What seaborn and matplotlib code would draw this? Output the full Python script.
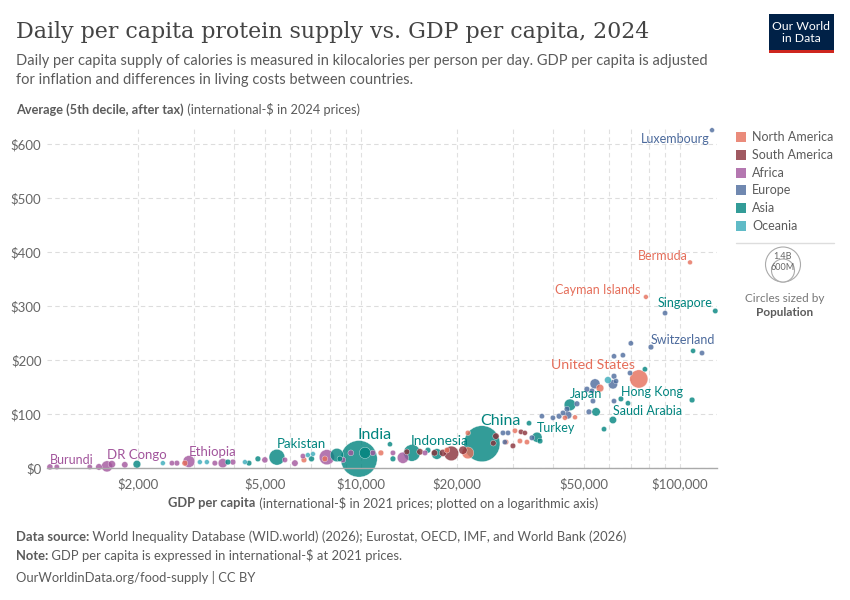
import pandas as pd
import seaborn as sns
import matplotlib.pyplot as plt
from matplotlib.patches import Rectangle, Circle
from matplotlib.lines import Line2D
from matplotlib.ticker import FixedLocator, FixedFormatter, NullFormatter

# Datos: PIB per cápita, valor, continente, población (millones)
countries = [
    "Burundi", "", "", "", "DR Congo", "", "", "", "", "Ethiopia", "", "", "", "", "", "", "",
    "Nigeria", "", "", "", "", "Egypt", "",
    "", "", "", "", "Pakistan", "", "Bangladesh", "", "India", "Philippines", "", "", "Indonesia", "",
    "Vietnam", "China", "", "Turkey", "", "Japan", "South Korea", "", "Saudi Arabia", "Hong Kong", "",
    "", "", "", "Singapore",
    "", "", "", "", "", "", "", "", "", "", "", "", "", "", "", "Germany", "United Kingdom", "", "",
    "", "", "", "", "", "Switzerland", "", "", "Luxembourg",
    "Haiti", "", "", "", "", "Mexico", "", "", "", "", "", "", "", "Canada", "United States",
    "Cayman Islands", "Bermuda",
    "", "", "", "", "Brazil", "Colombia", "Chile", "", "", "", "",
    "", "", "", "", "", "", "Australia",
]
gdp = [
    1060, 1114, 1413, 1510, 1600, 1657, 1820, 2557, 2650, 2890, 3485, 3690, 3970, 5000, 5780, 6210, 6580,
    7820, 8780, 9300, 10900, 12600, 13540, 15880,
    1986, 3830, 4460, 4755, 5455, 7000, 8410, 8590, 9860, 10300, 12330, 12600, 14450, 16220,
    17300, 23950, 33640, 35640, 36410, 45200, 54570, 57790, 61630, 65290, 68710,
    77640, 109100, 109900, 129000,
    27870, 28910, 28250, 34360, 36920, 39970, 41780, 42990, 44560, 44240, 47540, 51090, 51840, 52980,
    53360, 54160, 61630, 62110, 63000, 62110, 69710, 62110, 66230, 70130, 81090, 89770, 117200, 126000,
    2807, 6630, 7710, 11550, 18610, 21640, 21640, 28510, 30390, 31500, 33140, 43590, 46880, 56140, 74300,
    78190, 107500,
    13930, 15310, 17000, 18070, 19200, 20890, 26490, 26000, 29950, 31740, 32660,
    2395, 3128, 3290, 4330, 6820, 7075, 59460,
]
protein = [
    2, 2, 2, 2, 3, 7, 6, 9, 9, 12, 9, 9, 11, 15, 15, 9, 22,
    20, 15, 28, 28, 28, 19, 28,
    7, 11, 9, 17, 20, 17, 24, 17, 17, 28, 44, 17, 28, 33,
    26, 45, 83, 57, 50, 117, 104, 72, 89, 128, 120,
    183, 126, 217, 291,
    65, 65, 48, 56, 96, 93, 96, 102, 98, 109, 119, 146, 104, 143,
    124, 156, 155, 170, 161, 124, 176, 207, 209, 231, 224, 287, 213, 626,
    9, 15, 17, 28, 33, 28, 65, 48, 69, 50, 48, 93, 94, 148, 165,
    317, 381,
    30, 30, 28, 28, 27, 33, 59, 46, 41, 67, 65,
    9, 11, 11, 11, 24, 26, 163,
]
continent = (
    ["Africa"] * 24
    + ["Asia"] * 29
    + ["Europe"] * 28
    + ["North America"] * 17
    + ["South America"] * 11
    + ["Oceania"] * 7
)
population = [
    14, 6, 5, 21, 110, 34, 18, 6, 9, 130, 8, 68, 12, 15, 6, 20, 6,
    230, 10, 12, 8, 6, 115, 8,
    40, 10, 8, 10, 250, 12, 172, 8, 1450, 115, 3, 10, 282, 10,
    100, 1410, 5, 86, 10, 124, 52, 5, 33, 7.5, 5,
    5, 10, 3, 6,
    6, 5, 5, 8, 5, 5, 10, 6, 40, 10, 10, 10, 10, 5,
    6, 84, 68, 10, 5, 5, 5, 5, 5, 5, 9, 5, 5, 0.7,
    12, 10, 10, 10, 10, 130, 5, 5, 5, 5, 5, 3, 1, 40, 340,
    0.07, 0.06,
    10, 20, 18, 30, 212, 50, 20, 10, 8, 5, 3,
    1, 1, 1, 1, 1, 1, 27,
]

continent_order = ["North America", "South America", "Africa", "Europe", "Asia", "Oceania"]
colors = {
    "North America": "#E56E5A",
    "South America": "#883039",
    "Africa": "#A2559C",
    "Europe": "#4C6A9C",
    "Asia": "#00847E",
    "Oceania": "#38AABA",
}

df = pd.DataFrame({"country": countries, "gdp": gdp, "protein": protein,
                   "continent": continent, "pop": population})
df = df.sort_values("pop", ascending=False)

sns.set_theme(style="white")
plt.rcParams["font.family"] = ["Lato", "DejaVu Sans"]

W, H = 850, 600
fig = plt.figure(figsize=(8.5, 6), dpi=100)
ax = fig.add_axes([47 / W, 132 / H, 670 / W, 340 / H])

sns.scatterplot(data=df, x="gdp", y="protein", hue="continent", hue_order=continent_order,
                palette=colors, size="pop", sizes=(12, 690), size_norm=(0, 1450),
                alpha=0.8, edgecolor="white", linewidth=0.3, legend=False, ax=ax, clip_on=False)

ax.set_xscale("log")
ax.set_xlim(1038, 130600)
ax.set_ylim(0, 630)

xt = [2000, 5000, 10000, 20000, 50000, 100000]
ax.xaxis.set_major_locator(FixedLocator(xt))
ax.xaxis.set_major_formatter(FixedFormatter(["$2,000", "$5,000", "$10,000", "$20,000", "$50,000", "$100,000"]))
minor = [m * 10 ** e for e in range(3, 6) for m in range(1, 10)]
ax.xaxis.set_minor_locator(FixedLocator(minor))
ax.xaxis.set_minor_formatter(NullFormatter())
ax.set_yticks(range(0, 601, 100))
ax.set_yticklabels(["$0"] + [f"${v}" for v in range(100, 601, 100)])

ax.grid(which="both", axis="x", linestyle=(0, (4, 3)), color="#e0e0e0", linewidth=0.8)
ax.grid(which="major", axis="y", linestyle=(0, (4, 3)), color="#dddddd", linewidth=0.8)
ax.set_axisbelow(True)
for s in ["top", "right", "left"]:
    ax.spines[s].set_visible(False)
ax.spines["bottom"].set_color("#aaaaaa")
ax.spines["bottom"].set_linewidth(1)
ax.tick_params(axis="both", which="both", length=0, labelsize=9.5, colors="#666666")
ax.tick_params(axis="x", pad=7)
ax.tick_params(axis="y", pad=4)
ax.set_xlabel("")
ax.set_ylabel("")

# etiquetas de países
label_style = {
    "Burundi": (0, 5, "left", 9),
    "DR Congo": (0, 8, "left", 9.5),
    "Ethiopia": (0, 6.5, "left", 9.5),
    "Pakistan": (0, 9.5, "left", 9.5),
    "India": (-1, 17, "left", 11.5),
    "Indonesia": (-1, 8.5, "left", 9.8),
    "China": (-1, 16, "left", 11.5),
    "Turkey": (0, 6.5, "left", 9),
    "Japan": (0, 7.5, "left", 9.3),
    "Saudi Arabia": (0, 6.5, "left", 9),
    "Hong Kong": (0, 5, "left", 9),
    "United States": (-2.5, 10, "right", 10.2),
    "Switzerland": (0, 5, "left", 9),
    "Singapore": (-2, 6, "right", 9),
    "Cayman Islands": (-4, 5, "right", 9),
    "Bermuda": (-1.5, 4.5, "right", 9),
    "Luxembourg": (-2, -6.5, "right", 9),
}
for _, r in df.iterrows():
    if r["country"] in label_style:
        dx, dy, ha, fs = label_style[r["country"]]
        ax.annotate(r["country"], (r["gdp"], r["protein"]), xytext=(dx, dy), textcoords="offset points",
                    ha=ha, va="center", fontsize=fs, color=colors[r["continent"]], annotation_clip=False)

renderer = fig.canvas.get_renderer()


def rich(x, y, parts, size, color="#5b5b5b", ha="left"):
    texts = []
    cx = x
    for s, w in parts:
        t = fig.text(cx / W, 1 - y / H, s, fontsize=size, fontweight=w, color=color, va="center")
        cx += t.get_window_extent(renderer).width
        texts.append(t)
    if ha == "center":
        shift = (cx - x) / 2
        for t in texts:
            px, py = t.get_position()
            t.set_position((px - shift / W, py))


# títulos
fig.text(16 / W, 1 - 32 / H, "Daily per capita protein supply vs. GDP per capita, 2024",
         fontsize=15.9, family="DejaVu Serif", color="#444444", va="center")
fig.text(16 / W, 1 - 61 / H, "Daily per capita supply of calories is measured in kilocalories per person per day. GDP per capita is adjusted",
         fontsize=10.5, color="#5b5b5b", va="center")
fig.text(16 / W, 1 - 80 / H, "for inflation and differences in living costs between countries.",
         fontsize=10.5, color="#5b5b5b", va="center")
rich(16, 110, [("Average (5th decile, after tax)", "bold"), (" (international-$ in 2024 prices)", "normal")], 9.2)
rich(383, 503, [("GDP per capita", "bold"), (" (international-$ in 2021 prices; plotted on a logarithmic axis)", "normal")],
     9.3, ha="center")

# pie de página
rich(16, 537, [("Data source:", "bold"), (" World Inequality Database (WID.world) (2026); Eurostat, OECD, IMF, and World Bank (2026)", "normal")], 9.4)
rich(16, 556, [("Note:", "bold"), (" GDP per capita is expressed in international-$ at 2021 prices.", "normal")], 9.4)
fig.text(16 / W, 1 - 577 / H, "OurWorldinData.org/food-supply | CC BY", fontsize=9.4, color="#5b5b5b", va="center")

# logo
fig.add_artist(Rectangle((769 / W, 1 - 50 / H), 65 / W, 36 / H, transform=fig.transFigure, color="#002147", lw=0))
fig.add_artist(Rectangle((769 / W, 1 - 53 / H), 65 / W, 3 / H, transform=fig.transFigure, color="#CE261E", lw=0))
fig.text(801 / W, 1 - 26 / H, "Our World", fontsize=8.8, color="white", ha="center", va="center")
fig.text(801 / W, 1 - 39 / H, "in Data", fontsize=8.8, color="white", ha="center", va="center")

# leyenda de continentes
for i, c in enumerate(continent_order):
    yc = 137 + i * 17.8
    fig.add_artist(Rectangle((736 / W, 1 - (yc + 5) / H), 10 / W, 10 / H, transform=fig.transFigure,
                             color=colors[c], alpha=0.8, lw=0))
    fig.text(752 / W, 1 - yc / H, c, fontsize=9, color="#5b5b5b", va="center")
fig.add_artist(Line2D([736 / W, 834 / W], [1 - 243 / H, 1 - 243 / H], transform=fig.transFigure,
                      color="#dddddd", lw=1))

# leyenda de tamaños
fig.add_artist(Circle((783 / 100, (600 - 264.5) / 100), 0.175, transform=fig.dpi_scale_trans,
                      facecolor="white", edgecolor="#aaaaaa", lw=0.8))
fig.add_artist(Circle((783 / 100, (600 - 270.5) / 100), 0.115, transform=fig.dpi_scale_trans,
                      facecolor="white", edgecolor="#aaaaaa", lw=0.8))
fig.text(783 / W, 1 - 256 / H, "1.4B", fontsize=6.5, color="#666666", ha="center", va="center")
fig.text(783 / W, 1 - 268 / H, "600M", fontsize=6.5, color="#666666", ha="center", va="center")
fig.text(785 / W, 1 - 299 / H, "Circles sized by", fontsize=8.5, color="#777777", ha="center", va="center")
fig.text(785 / W, 1 - 313 / H, "Population", fontsize=8.5, color="#5b5b5b", ha="center", va="center",
         fontweight="bold")

fig.savefig("out.png", dpi=100)
